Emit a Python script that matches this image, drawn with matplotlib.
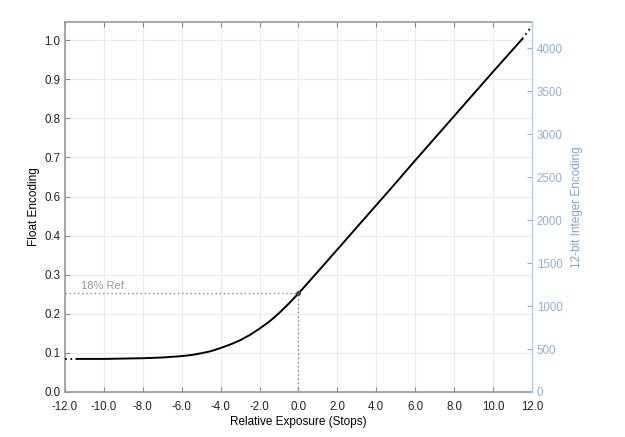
import matplotlib
matplotlib.use("Agg")
import matplotlib.pyplot as plt
import numpy as np

plt.rcParams["font.family"] = ["Liberation Sans", "DejaVu Sans"]

# curve (stops -> float code value)
stops = [-11.4, -10.0, -9.0, -8.0, -7.0, -6.0, -5.5, -5.0, -4.5, -4.0, -3.5, -3.0,
         -2.5, -2.0, -1.5, -1.0, -0.5, 0.0, 1.0, 2.0, 3.0, 4.0, 5.0, 6.0, 7.0,
         8.0, 9.0, 10.0, 11.0, 11.5]
code = [0.094, 0.094, 0.095, 0.096, 0.098, 0.102, 0.105, 0.110, 0.116, 0.125, 0.135, 0.147,
        0.162, 0.180, 0.200, 0.224, 0.251, 0.280, 0.342, 0.405, 0.468, 0.531, 0.594, 0.658, 0.721,
        0.784, 0.847, 0.910, 0.972, 1.003]
# dotted extensions beyond the plotted range
ext_lo_stops = [-12.0, -11.4]
ext_lo_code = [0.094, 0.094]
ext_hi_stops = [11.5, 12.0]
ext_hi_code = [1.003, 1.040]

ref_stop = 0.0
ref_code = 0.280
max_int = 4095

x_ticks = list(range(-12, 13, 2))
y_ticks = np.linspace(0, 1, 10)
int_ticks = list(range(0, 4001, 500))

fig = plt.figure(figsize=(6.25, 4.37), dpi=100)
ax = fig.add_axes([0.104, 0.103, 0.747, 0.847])

grey = "#999999"
blue = "#8fb0d8"

ax.plot(stops, code, color="black", linewidth=1.4, zorder=3)
ax.plot(ext_lo_stops, ext_lo_code, color="black", linewidth=1.3, linestyle=(0, (1, 2)), zorder=3)
ax.plot(ext_hi_stops, ext_hi_code, color="black", linewidth=1.3, linestyle=(0, (1, 2)), zorder=3)

ax.plot([-12, ref_stop], [ref_code, ref_code], color="#888888", linewidth=1.0,
        linestyle=(0, (1, 2)), zorder=2)
ax.plot([ref_stop, ref_stop], [0, ref_code], color="#888888", linewidth=1.0,
        linestyle=(0, (1, 2)), zorder=2)
ax.plot([ref_stop], [ref_code], marker="o", markersize=2.5, color="#444444", zorder=4)
ax.text(-11.2, ref_code + 0.008, "18% Ref.", color="#999999", fontsize=8, va="bottom", ha="left")

ax.set_xlim(-12, 12)
ax.set_ylim(0, 1.052)
ax.set_xticks(x_ticks)
ax.set_xticklabels([f"{v:.1f}" for v in x_ticks])
ax.set_yticks(y_ticks)
ax.set_yticklabels([f"{v:.1f}" for v in y_ticks])
ax.grid(True, color="#ebebeb", linewidth=0.8, zorder=0)
ax.tick_params(axis="both", direction="in", length=3.5, color="#888888", labelsize=8.3,
               labelcolor="#222222", top=True, right=False)
ax.tick_params(axis="x", pad=6.5)
ax.set_xlabel("Relative Exposure (Stops)", fontsize=8.5, labelpad=2)
ax.set_ylabel("Float Encoding", fontsize=8.5, labelpad=3)
for side in ["top", "left", "bottom"]:
    ax.spines[side].set_color(grey)
    ax.spines[side].set_linewidth(1.2)
ax.spines["right"].set_visible(False)

ax2 = ax.twinx()
ax2.set_ylim(0, 1.052 * max_int)
ax2.set_yticks(int_ticks)
ax2.set_yticklabels([str(v) for v in int_ticks])
ax2.tick_params(axis="y", direction="in", length=3.5, color=blue, labelsize=8.3, labelcolor=blue)
ax2.set_ylabel("12-bit Integer Encoding", fontsize=8.5, color="#7fa3d0", labelpad=6)
for side in ["top", "left", "bottom"]:
    ax2.spines[side].set_visible(False)
ax2.spines["right"].set_color("#b8cde8")
ax2.spines["right"].set_linewidth(1.0)

fig.savefig("out.png", dpi=100)
